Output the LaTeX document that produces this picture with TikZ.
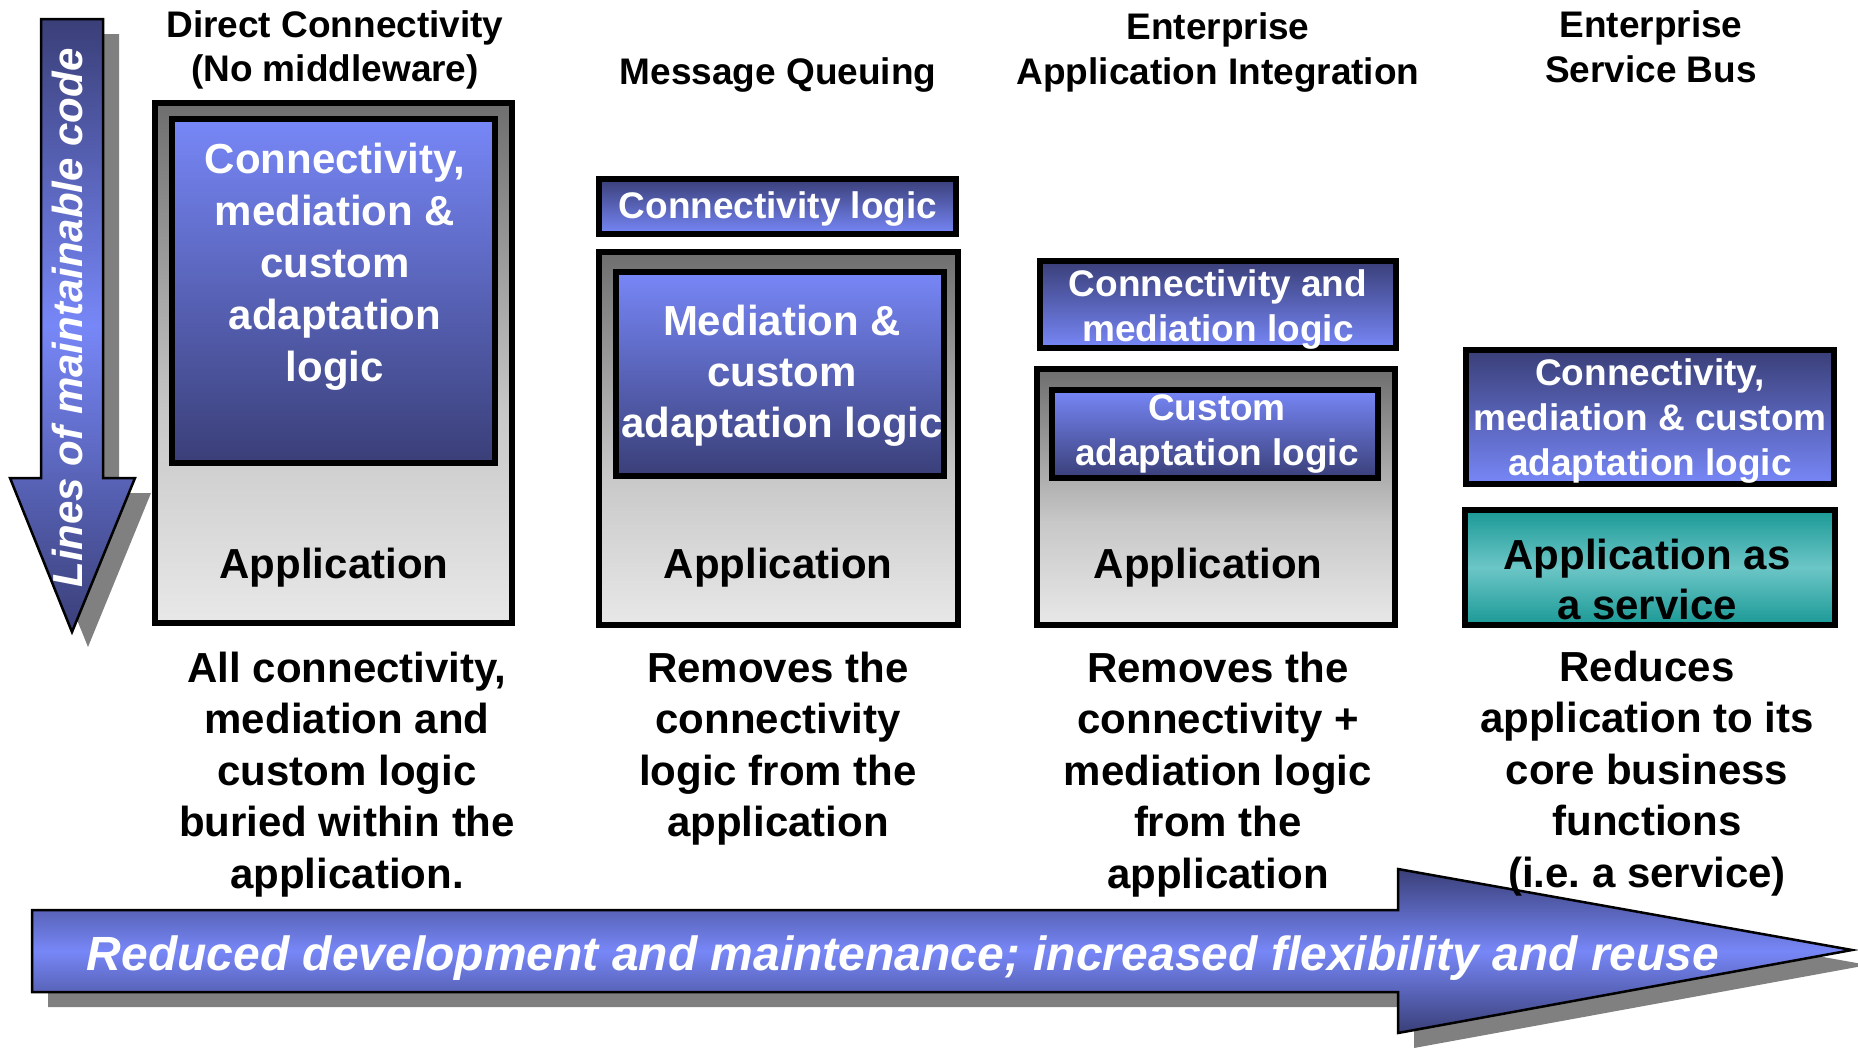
\documentclass[tikz,border=0pt]{standalone}
\usepackage{fontspec}
\setmainfont{Liberation Sans}
\frenchspacing
\definecolor{navy}{RGB}{58,63,120}
\definecolor{lblue}{RGB}{119,135,247}
\definecolor{grayT}{RGB}{110,110,110}
\definecolor{grayM}{RGB}{200,200,200}
\definecolor{grayB}{RGB}{232,232,232}
\definecolor{tealD}{RGB}{26,153,150}
\definecolor{tealL}{RGB}{108,198,198}
\definecolor{shadowgray}{RGB}{128,128,128}
\pgfdeclareverticalshading{appgray}{100bp}{color(0bp)=(grayB); color(25bp)=(grayB); color(45bp)=(grayM); color(75bp)=(grayT); color(100bp)=(grayT)}
\begin{document}
\begin{tikzpicture}[x=1pt,y=-1pt,
  appbox/.style={draw=black, line width=6pt, shade, shading=appgray, inner sep=0pt},
  bluedown/.style={draw=black, line width=6pt, top color=lblue, bottom color=navy, inner sep=0pt},
  blueup/.style={draw=black, line width=6pt, top color=navy, bottom color=lblue, inner sep=0pt},
  tealbox/.style={draw=black, line width=6pt, top color=tealD, bottom color=tealD, middle color=tealL, inner sep=0pt},
  title/.style={font=\bfseries\fontsize{37}{44.5}\selectfont, align=center, anchor=base, inner sep=0pt},
  bigwhite/.style={font=\bfseries\fontsize{42}{51}\selectfont, text=white, align=center, anchor=base, inner sep=0pt},
  smallwhite/.style={font=\bfseries\fontsize{37}{45}\selectfont, text=white, align=center, anchor=base, inner sep=0pt},
  bigblack/.style={font=\bfseries\fontsize{42}{51}\selectfont, text=black, align=center, anchor=base, inner sep=0pt},
  desc/.style={font=\bfseries\fontsize{42}{51.5}\selectfont, text=black, align=center, anchor=base, inner sep=0pt},
  arrowshade/.style={draw=black, line width=2.5pt, line join=miter, top color=navy, bottom color=navy, middle color=lblue},
  shadowfill/.style={fill=shadowgray}
]
\useasboundingbox (0,0) rectangle (1858,1047);

% ---- left vertical arrow ----
\fill[shadowfill] (57,34) -- (119,34) -- (119,493) -- (151,493) -- (88,647) -- (26,493) -- (57,493) -- cycle;
\path[arrowshade] (41,19) -- (103,19) -- (103,478) -- (135,478) -- (72,632) -- (10,478) -- (41,478) -- cycle;
\node[rotate=90, anchor=base, inner sep=0pt, text=white, font=\bfseries\itshape\fontsize{42}{50}\selectfont] (loc) at (82,318) {Lines of maintainable code};

% ---- bottom horizontal arrow ----
\fill[shadowfill] (48,925) -- (1414,925) -- (1414,884) -- (1868,965) -- (1414,1048) -- (1414,1007) -- (48,1007) -- cycle;
\path[arrowshade] (32,910) -- (1398,910) -- (1398,869) -- (1852,950) -- (1398,1033) -- (1398,992) -- (32,992) -- cycle;
\node[anchor=base, inner sep=0pt, text=white, font=\bfseries\itshape\fontsize{48}{56}\selectfont] (redtxt) at (903,970) {Reduced development and maintenance; increased flexibility and reuse};

% ---- titles (anchor = baseline of last line) ----
\node[title] (t1) at (335,81.5) {Direct Connectivity\\(No middleware)};
\node[title] (t2) at (778,84) {Message Queuing};
\node[title, font=\bfseries\fontsize{37}{45}\selectfont] (t3) at (1218,84) {Enterprise\\Application Integration};
\node[title, font=\bfseries\fontsize{37}{45}\selectfont] (t4) at (1651,82) {Enterprise\\Service Bus};

% ---- column 1 ----
\node[appbox, minimum width=357pt, minimum height=520pt] (app1) at (333.5,363) {};
\node[bluedown, minimum width=323pt, minimum height=344pt] (in1) at (333.5,291) {};
\node[bigwhite, font=\bfseries\fontsize{42}{52}\selectfont] (in1t) at (335,381) {Connectivity,\\mediation \&\\custom\\adaptation\\logic};
\node[bigblack] (app1t) at (334,578) {Application};

% ---- column 2 ----
\node[blueup, minimum width=357pt, minimum height=55pt] (con2) at (777.5,206.5) {};
\node[smallwhite] (con2t) at (778,218) {Connectivity logic};
\node[appbox, minimum width=359pt, minimum height=373pt] (app2) at (778.5,438.5) {};
\node[bluedown, minimum width=328pt, minimum height=204pt] (in2) at (780,374) {};
\node[bigwhite] (in2t) at (782,437) {Mediation \&\\custom\\adaptation logic};
\node[bigblack] (app2t) at (778,578) {Application};

% ---- column 3 ----
\node[blueup, minimum width=356pt, minimum height=87pt] (con3) at (1218,304.5) {};
\node[smallwhite] (con3t) at (1218,341) {Connectivity and\\mediation logic};
\node[appbox, minimum width=358pt, minimum height=256pt] (app3) at (1216,497) {};
\node[bluedown, minimum width=326pt, minimum height=88pt] (in3) at (1215,434) {};
\node[smallwhite] (in3t) at (1217,465) {Custom\\adaptation logic};
\node[bigblack] (app3t) at (1208,578) {Application};

% ---- column 4 ----
\node[blueup, minimum width=368pt, minimum height=134pt] (con4) at (1650,417) {};
\node[smallwhite] (con4t) at (1650,475) {Connectivity,\\mediation \& custom\\adaptation logic};
\node[tealbox, minimum width=370pt, minimum height=115pt] (svc4) at (1650,567.5) {};
\node[bigblack, font=\bfseries\fontsize{42}{50}\selectfont] (svc4t) at (1647,619) {Application as\\a service};

% ---- descriptions ----
\node[desc] (d1) at (347,888) {All connectivity,\\mediation and\\custom logic\\buried within the\\application.};
\node[desc] (d2) at (778,836.5) {Removes the\\connectivity\\logic from the\\application};
\node[desc] (d3) at (1218,888) {Removes the\\connectivity +\\mediation logic\\from the\\application};
\node[desc] (d4) at (1647,887) {Reduces\\application to its\\core business\\functions\\(i.e. a service)};
\end{tikzpicture}
\end{document}
